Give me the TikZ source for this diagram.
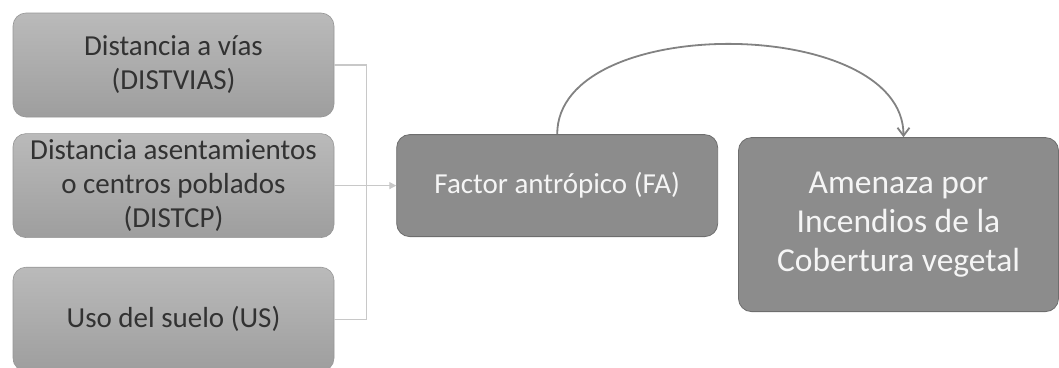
\documentclass[tikz,border=0pt]{standalone}
\usepackage{fontspec}
\setmainfont{Carlito}
\usepackage{tikz}
\usetikzlibrary{arrows.meta,positioning,calc}
\definecolor{BoxTop}{RGB}{186,186,186}
\definecolor{BoxBot}{RGB}{158,158,158}
\definecolor{BoxLine}{RGB}{150,150,150}
\definecolor{DarkFill}{RGB}{140,140,140}
\definecolor{DarkLine}{RGB}{110,110,110}
\definecolor{ConnGray}{RGB}{200,200,200}
\definecolor{CurveGray}{RGB}{130,130,130}
\definecolor{TextDark}{RGB}{50,50,50}
\definecolor{TextLight}{RGB}{245,245,245}

\begin{document}
\begin{tikzpicture}[>=Latex,node distance=16pt,every node/.style={font=\fontsize{29pt}{34pt}\selectfont}]
\tikzset{inbox/.style={draw=BoxLine,line width=0.6pt,top color=BoxTop,bottom color=BoxBot,rounded corners=13pt,minimum width=321pt,minimum height=104pt,align=center,text=TextDark},dbox/.style={draw=DarkLine,line width=0.8pt,fill=DarkFill,rounded corners=13pt,minimum width=321pt,align=center,text=TextLight},conn/.style={draw=ConnGray,line width=1.2pt}}
\useasboundingbox (0,0) rectangle (1059pt,-367pt);
\node[inbox] (vias) at (173.5pt,-65pt) {Distancia a vías\\(DISTVIAS)};
\node[inbox,below=of vias] (cp) {Distancia asentamientos\\o centros poblados\\(DISTCP)};
\node[inbox,below=29pt of cp] (us) {Uso del suelo (US)};
\node[dbox,minimum height=102pt,right=62pt of cp] (fa) {Factor antrópico (FA)};
\node[dbox,minimum width=320pt,minimum height=174pt,below right=3pt and 20pt of fa.north east,font=\fontsize{33.5pt}{39pt}\selectfont] (amz) {Amenaza por\\Incendios de la\\Cobertura vegetal};
\coordinate (bus) at ($(cp.east)+(32pt,0)$);
\draw[conn] (vias.east) -| (bus) |- (us.east);
\draw[conn,-{Triangle[length=7pt,width=7pt]}] (cp.east) -- (fa.west);
\draw[CurveGray,line width=1.8pt,-{Straight Barb[length=8pt,width=12pt]}] (fa.north) to[out=90,in=90,looseness=0.9] ($(amz.north)+(5pt,0)$);
\end{tikzpicture}
\end{document}
